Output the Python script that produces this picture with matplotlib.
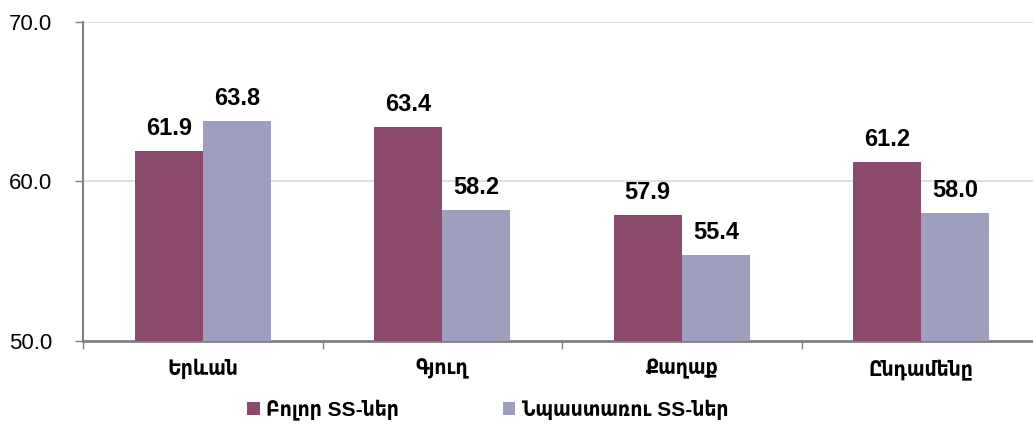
import matplotlib
matplotlib.use("Agg")
import matplotlib.pyplot as plt
import numpy as np

categories = ["Երևան", "Գյուղ", "Քաղաք", "Ընդամենը"]
series_names = ["Բոլոր SS-ներ", "Նպաստառու SS-ներ"]
all_hh = [61.9, 63.4, 57.9, 61.2]
benef_hh = [63.8, 58.2, 55.4, 58.0]
yticks = [50.0, 60.0, 70.0]

colors = ["#8B4A6E", "#9E9FBF"]
fam = ["Liberation Sans", "DejaVu Sans"]

W, H = 1033, 424
fig = plt.figure(figsize=(W / 100, H / 100), dpi=100)
ax = fig.add_axes([83 / W, 1 - 341 / H, 958 / W, 319 / H])

x = np.arange(len(categories))
bw = 0.284
b1 = ax.bar(x - bw / 2, all_hh, bw, color=colors[0], label=series_names[0], zorder=3)
b2 = ax.bar(x + bw / 2, benef_hh, bw, color=colors[1], label=series_names[1], zorder=3)

for bars, vals in ((b1, all_hh), (b2, benef_hh)):
    for r, v in zip(bars, vals):
        ax.annotate(f"{v:.1f}", (r.get_x() + r.get_width() / 2, v),
                    xytext=(0, 8), textcoords="offset points",
                    ha="center", va="bottom", fontsize=17, fontweight="bold",
                    family=fam, color="black")

ax.set_xlim(-0.5, len(categories) - 0.5)
ax.set_ylim(50, 70)
ax.set_yticks(yticks)
ax.set_yticklabels([f"{t:.1f}" for t in yticks], fontsize=16, family=fam)
ax.yaxis.grid(True, color="#D9D9D9", linewidth=1.2, zorder=0)
ax.set_axisbelow(True)

ax.set_xticks(np.arange(len(categories) + 1) - 0.5)
ax.set_xticklabels([])
ax.tick_params(axis="x", length=6, color="#808080", width=1)
ax.tick_params(axis="y", length=6, color="#808080", width=1, pad=16)

for i, c in enumerate(categories):
    ax.text(i, -0.088, c, transform=ax.get_xaxis_transform(), ha="center", va="center",
            fontsize=15, fontweight="bold", family=fam, fontstretch="condensed")

for s in ("top", "right"):
    ax.spines[s].set_visible(False)
ax.spines["left"].set_color("#808080")
ax.spines["bottom"].set_color("#808080")
ax.spines["left"].set_linewidth(1.5)
ax.spines["bottom"].set_linewidth(2)

leg = fig.legend(handles=[b1, b2], labels=series_names, loc="center left",
                 bbox_to_anchor=(247 / W, 1 - 410 / H), ncol=2, frameon=False,
                 borderpad=0, borderaxespad=0,
                 prop={"family": fam, "size": 15, "weight": "bold", "stretch": "condensed"},
                 handlelength=0.6, handleheight=0.6, handletextpad=0.3, columnspacing=5.0)

fig.savefig("out.png", dpi=100)
